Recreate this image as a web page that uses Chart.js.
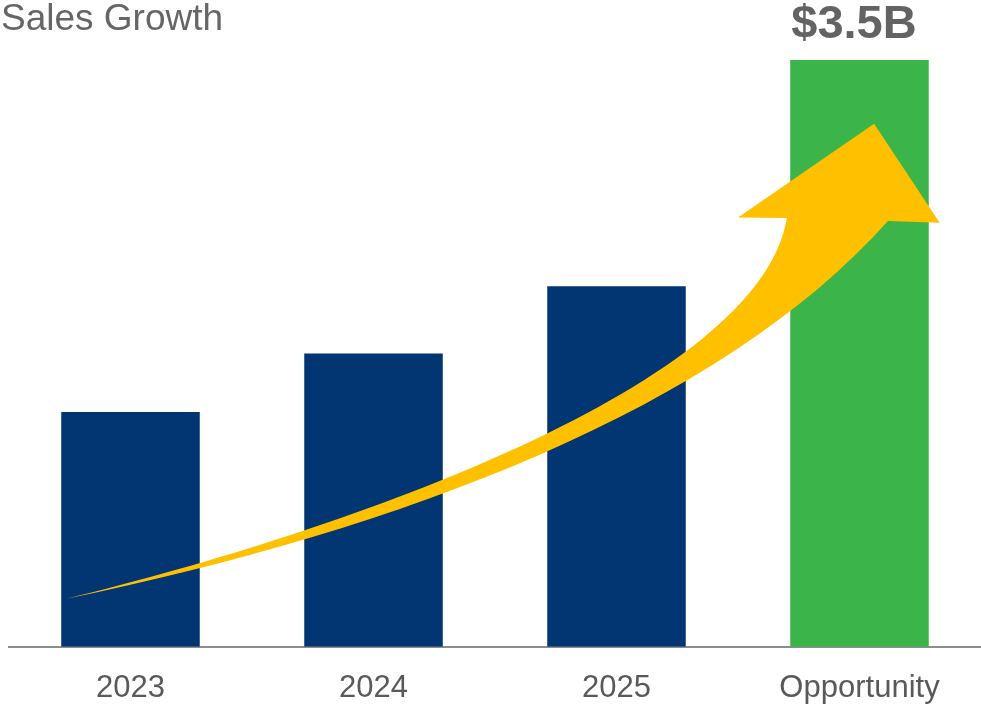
<!DOCTYPE html>
<html>
<head>
<meta charset="utf-8">
<script src="https://cdn.jsdelivr.net/npm/chart.js@4.4.0/dist/chart.umd.min.js"></script>
<style>
  html, body { margin: 0; padding: 0; background: #fff; }
  canvas { display: block; }
</style>
</head>
<body>
<canvas id="sales-chart" width="981" height="704"></canvas>
<script>
        const categories = ['2023', '2024', '2025', 'Opportunity'];
        const salesValues = [1.4, 1.75, 2.15, 3.5];
        const topLabel = '$3.5B';
        const chartTitle = 'Sales Growth';

        // growth arrow, in data units: x = category index, y = value
        // upper and lower edges are cubic curves: start, control 1, control 2, end
        const arrowUpper = [[-0.265, 0.286], [0.903, 0.698], [2.591, 1.562], [2.701, 2.558]];
        const arrowHead = [[2.50, 2.56], [3.06, 3.12], [3.33, 2.53]];
        const arrowLower = [[-0.265, 0.286], [1.109, 0.698], [2.426, 1.413], [3.117, 2.540]];

        const fontFamily = '"Liberation Sans", Arial, sans-serif';

        const extrasPlugin = {
            id: 'extras',
            afterDatasetsDraw(chart) {
                const ctx = chart.ctx;
                const xs = chart.scales.x;
                const ys = chart.scales.y;
                const toPx = p => [xs.getPixelForValue(p[0]), ys.getPixelForValue(p[1])];
                const up = arrowUpper.map(toPx);
                const lo = arrowLower.map(toPx);
                const head = arrowHead.map(toPx);

                // arrow
                ctx.save();
                ctx.fillStyle = '#FFC000';
                ctx.beginPath();
                ctx.moveTo(up[0][0], up[0][1]);
                ctx.bezierCurveTo(up[1][0], up[1][1], up[2][0], up[2][1], up[3][0], up[3][1]);
                head.forEach(p => ctx.lineTo(p[0], p[1]));
                ctx.lineTo(lo[3][0], lo[3][1]);
                ctx.bezierCurveTo(lo[2][0], lo[2][1], lo[1][0], lo[1][1], lo[0][0], lo[0][1]);
                ctx.closePath();
                ctx.fill();
                ctx.restore();

                // title
                ctx.save();
                ctx.fillStyle = '#666666';
                ctx.font = '37px ' + fontFamily;
                ctx.textAlign = 'left';
                ctx.textBaseline = 'alphabetic';
                ctx.fillText(chartTitle, 1, 30);

                // value over the last bar
                const meta = chart.getDatasetMeta(0);
                const lastBar = meta.data[meta.data.length - 1];
                ctx.font = 'bold 47px ' + fontFamily;
                ctx.fillStyle = '#636363';
                ctx.fillText(topLabel, lastBar.x - lastBar.width / 2 + 1, 38);
                ctx.restore();
            }
        };

        const ctx = document.getElementById('sales-chart').getContext('2d');
        const salesChart = new Chart(ctx, {
            type: 'bar',
            data: {
                labels: categories,
                datasets: [
                    {
                        data: salesValues,
                        backgroundColor: c => c.dataIndex === categories.length - 1 ? '#3BB54A' : '#023672',
                        categoryPercentage: 1,
                        barPercentage: 0.57,
                        borderWidth: 0,
                    },
                ],
            },
            options: {
                responsive: false,
                animation: false,
                layout: {
                    padding: { top: 60, left: 9, right: 0, bottom: -18 },
                },
                scales: {
                    x: {
                        grid: { display: false },
                        border: { display: true, color: '#8C8C8C', width: 2 },
                        ticks: {
                            color: '#595959',
                            font: { size: 31, family: fontFamily },
                            padding: 15,
                            maxRotation: 0,
                        },
                    },
                    y: {
                        display: false,
                        min: 0,
                        max: 3.5,
                    },
                },
                plugins: {
                    legend: { display: false },
                    title: { display: false },
                    tooltip: { enabled: false },
                },
            },
            plugins: [extrasPlugin],
        });
</script>
</body>
</html>
